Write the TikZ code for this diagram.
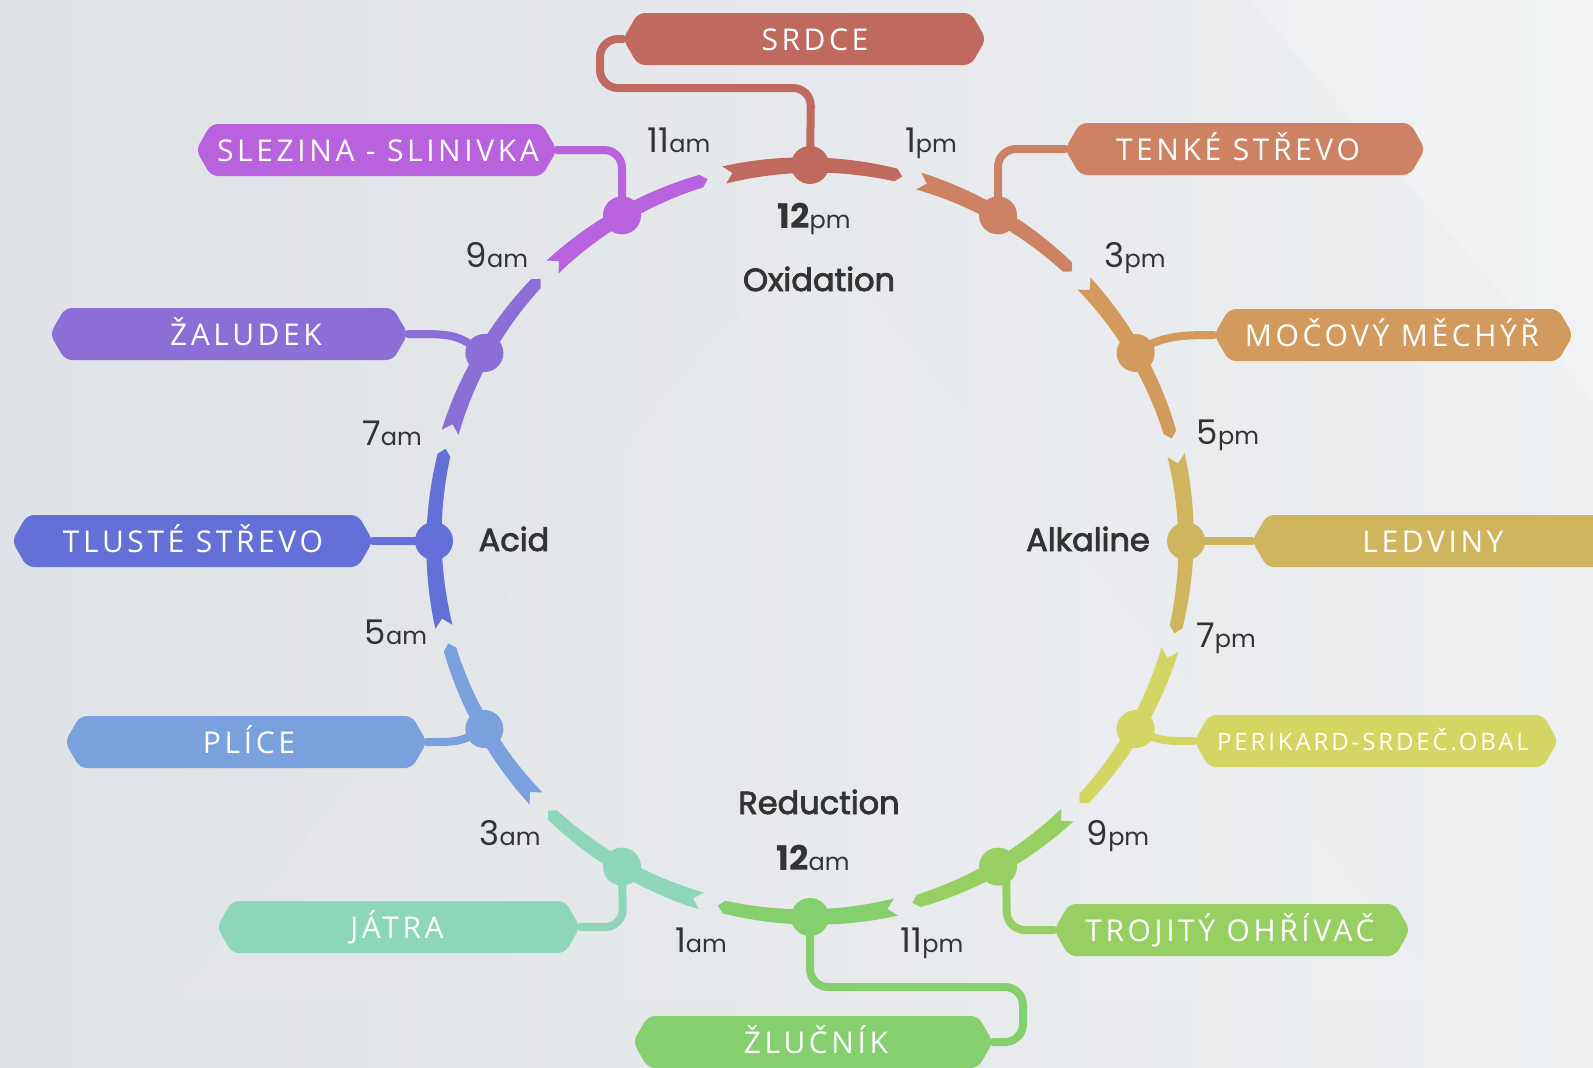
\documentclass[tikz,border=0pt]{standalone}
\usepackage{fontspec}
\newfontfamily\organfont[LetterSpace=12]{Open Sans}
\newfontfamily\clockfont{Poppins}
\newfontfamily\phasefont[FakeBold=2.6]{Poppins}
\usetikzlibrary{calc}
\definecolor{bgA}{HTML}{DFE2E6}
\definecolor{bgB}{HTML}{EDEFF1}
\definecolor{inkc}{HTML}{333333}
\definecolor{cA}{HTML}{C0695F}
\definecolor{cB}{HTML}{CD8363}
\definecolor{cC}{HTML}{D29A5C}
\definecolor{cD}{HTML}{CFB55E}
\definecolor{cE}{HTML}{D4D663}
\definecolor{cF}{HTML}{97CF62}
\definecolor{cG}{HTML}{85CF6E}
\definecolor{cH}{HTML}{8ED6B9}
\definecolor{cI}{HTML}{7AA0DD}
\definecolor{cJ}{HTML}{6270D8}
\definecolor{cK}{HTML}{8B6FD6}
\definecolor{cL}{HTML}{B862DE}
\tikzset{
  conn/.style={line width=8pt, line cap=round, line join=round, rounded corners=18pt},
  dotnode/.style={circle, minimum size=38pt, inner sep=0pt},
  organtext/.style={text=white, font=\organfont\fontsize{30}{30}\selectfont, anchor=base, inner sep=0pt},
  clocktext/.style={text=inkc, anchor=base, inner sep=0pt},
  phase/.style={text=inkc, font=\phasefont\fontsize{32}{32}\selectfont, anchor=base, inner sep=0pt},
}
\newcommand\tm[2]{{\clockfont\fontsize{34}{34}\selectfont #1\fontsize{24}{24}\selectfont #2}}
\newcommand\tmb[2]{{\clockfont\fontsize{34}{34}\selectfont\bfseries #1\mdseries\fontsize{24}{24}\selectfont #2}}
% #1 name, #2 x1, #3 x2, #4 yc, #5 colour, #6 text x, #7 text
\newcommand\organtag[7]{%
  \fill[#5, rounded corners=7pt] (#2,#4) -- ({#2+15},{#4-26}) -- ({#3-15},{#4-26}) -- (#3,#4) -- ({#3-15},{#4+26}) -- ({#2+15},{#4+26}) -- cycle;
  \coordinate (#1-w) at (#2,#4);
  \coordinate (#1-e) at (#3,#4);
  \node[organtext] (#1) at (#6,{#4+11}) {#7};
}
% #1 clock angle, #2 colour
\newcommand\ribbon[2]{%
  \pgfmathsetmacro\ribS{#1-13.2}%
  \pgfmathsetmacro\ribE{#1+13.2}%
  \fill[#2, shift={(810,541)}]
    plot[domain=\ribS:\ribE, samples=24] ({\x-90}:{384.8-2.3*(\x-\ribS)/26.4})
    -- ({\ribE+1.0-90}:376)
    -- plot[domain=\ribE:\ribS, samples=24] ({\x-90}:{367.2+2.3*(\x-\ribS)/26.4})
    -- ({\ribS+1.3-90}:376) -- cycle;
}
\begin{document}
\begin{tikzpicture}[x=1pt, y=-1pt]
\clip (0,0) rectangle (1593,1068);
\shade[left color=bgA, right color=bgB] (0,0) rectangle (1593,1068);
\fill[white, opacity=0.07] (810,230) -- (170,1000) -- (1450,1000) -- cycle;
\fill[white, opacity=0.2] (1250,0) -- (1593,0) -- (1593,400) -- cycle;

% dots (positions)
\coordinate (C) at (810,541);
\foreach \i/\a in {1/0,2/30,3/60,4/90,5/120,6/150,7/180,8/210,9/240,10/270,11/300,12/330}{
  \coordinate (p\i) at ($(C)+({\a-90}:376)$);
}

% connectors
\draw[conn, cA] (p1) -- (811,88) -- (600,88) -- (600,39) -- (623,39);
\draw[conn, cB] (p2) -- (998,149) -- (1065,149);
\draw[conn, cC] (p3) .. controls (1160,335) and (1185,335) .. (1214,335);
\draw[conn, cD] (p4) -- (1252,541);
\draw[conn, cE] (p5) .. controls (1160,741) .. (1194,741);
\draw[conn, cF] ([xshift=8pt]p6) -- (1007,930) -- (1054,930);
\draw[conn, cG] (p7) -- (810,987) -- (1023,987) -- (1023,1042) -- (993,1042);
\draw[conn, cH] (p8) -- (623,927) -- (580,927);
\draw[conn, cI] (p9) .. controls (460,742) .. (427,742);
\draw[conn, cJ] (p10) -- (373,541);
\draw[conn, cK] (p11) .. controls (455,334) .. (408,334);
\draw[conn, cL] (p12) -- (622,150) -- (557,150);

% tags
\organtag{srdce}{623}{986}{39}{cA}{815}{SRDCE}
\organtag{tenke}{1065}{1425}{149}{cB}{1238}{TENKÉ STŘEVO}
\organtag{mocovy}{1214}{1573}{335}{cC}{1392}{MOČOVÝ MĚCHÝŘ}
\organtag{ledviny}{1252}{1615}{541}{cD}{1433}{LEDVINY}
\fill[cE, rounded corners=7pt] (1194,741) -- (1209,715) -- (1543,715) -- (1558,741) -- (1543,767) -- (1209,767) -- cycle;
\coordinate (perikard-w) at (1194,741);
\node[organtext, font=\organfont\fontsize{24}{24}\selectfont] (perikard) at (1373,750) {PERIKARD-SRDEČ.OBAL};
\organtag{trojity}{1054}{1410}{930}{cF}{1230}{TROJITÝ OHŘÍVAČ}
\organtag{zlucnik}{633}{993}{1042}{cG}{816}{ŽLUČNÍK}
\organtag{jatra}{217}{580}{927}{cH}{397}{JÁTRA}
\organtag{plice}{65}{427}{742}{cI}{249}{PLÍCE}
\organtag{tluste}{12}{373}{541}{cJ}{193}{TLUSTÉ STŘEVO}
\organtag{zaludek}{50}{408}{334}{cK}{246}{ŽALUDEK}
\organtag{slezina}{196}{557}{150}{cL}{378}{SLEZINA - SLINIVKA}

% ring segments
\ribbon{0}{cA}
\ribbon{30}{cB}
\ribbon{60}{cC}
\ribbon{90}{cD}
\ribbon{120}{cE}
\ribbon{150}{cF}
\ribbon{180}{cG}
\ribbon{210}{cH}
\ribbon{240}{cI}
\ribbon{270}{cJ}
\ribbon{300}{cK}
\ribbon{330}{cL}

% dots
\node[dotnode, fill=cA] (d1) at (p1) {};
\node[dotnode, fill=cB] (d2) at (p2) {};
\node[dotnode, fill=cC] (d3) at (p3) {};
\node[dotnode, fill=cD] (d4) at (p4) {};
\node[dotnode, fill=cE] (d5) at (p5) {};
\node[dotnode, fill=cF] (d6) at (p6) {};
\node[dotnode, fill=cG] (d7) at (p7) {};
\node[dotnode, fill=cH] (d8) at (p8) {};
\node[dotnode, fill=cI] (d9) at (p9) {};
\node[dotnode, fill=cJ] (d10) at (p10) {};
\node[dotnode, fill=cK] (d11) at (p11) {};
\node[dotnode, fill=cL] (d12) at (p12) {};

% clock labels
\node[clocktext] (t11am) at (679,152) {\tm{11}{am}};
\node[clocktext] (t1pm) at (931,152) {\tm{1}{pm}};
\node[clocktext] (t12pm) at (814,228) {\tmb{12}{pm}};
\node[clocktext] (t3pm) at (1135,267) {\tm{3}{pm}};
\node[clocktext] (t9am) at (497,267) {\tm{9}{am}};
\node[clocktext] (t5pm) at (1228,444) {\tm{5}{pm}};
\node[clocktext] (t7am) at (392,445) {\tm{7}{am}};
\node[clocktext] (t7pm) at (1226,647) {\tm{7}{pm}};
\node[clocktext] (t5am) at (396,644) {\tm{5}{am}};
\node[clocktext] (t9pm) at (1118,845) {\tm{9}{pm}};
\node[clocktext] (t3am) at (510,845) {\tm{3}{am}};
\node[clocktext] (t1am) at (701,952) {\tm{1}{am}};
\node[clocktext] (t11pm) at (932,952) {\tm{11}{pm}};
\node[clocktext] (t12am) at (813,870) {\tmb{12}{am}};

% phase labels
\node[phase] (ox) at (819,291) {Oxidation};
\node[phase] (red) at (819,814) {Reduction};
\node[phase] (acid) at (514,551) {Acid};
\node[phase] (alk) at (1088,551) {Alkaline};
\end{tikzpicture}
\end{document}
